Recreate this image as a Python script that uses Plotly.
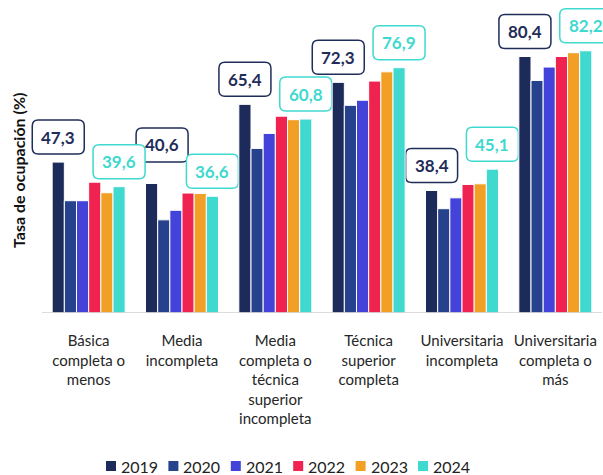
import plotly.graph_objects as go

categories = ["Básica<br>completa o<br>menos", "Media<br>incompleta",
              "Media<br>completa o<br>técnica<br>superior<br>incompleta",
              "Técnica<br>superior<br>completa", "Universitaria<br>incompleta",
              "Universitaria<br>completa o<br>más"]
years = ["2019", "2020", "2021", "2022", "2023", "2024"]
v2019 = [47.3, 40.6, 65.4, 72.3, 38.4, 80.4]
v2020 = [35.2, 29.2, 51.6, 65.1, 32.7, 72.9]
v2021 = [35.2, 32.2, 56.3, 66.7, 36.1, 77.1]
v2022 = [41.0, 37.6, 61.7, 72.7, 40.3, 80.4]
v2023 = [37.7, 37.5, 60.6, 75.6, 40.5, 81.6]
v2024 = [39.6, 36.6, 60.8, 76.9, 45.1, 82.2]
series = [v2019, v2020, v2021, v2022, v2023, v2024]
colors = ["#1c2b5a", "#27428c", "#4343d9", "#f0224f", "#f2a025", "#40d9d0"]
label_years = ["2019", "2024"]
label_colors = {"2019": "#1f2d5a", "2024": "#3fd9cf"}
# manual nudges (px) for labels that would collide: (category index, year) -> (dx, dy)
label_nudge = {(1, "2019"): (10.5, 13.5)}

W, H = 603, 475
ML, MR, MT, MB = 0, 0, 0, 162
BARGAP = 0.218
FONT = "Lato"
AX_L, AX_R = 42, 602  # pixel extent of the category axis line

fig = go.Figure()
for yr, vals, c in zip(years, series, colors):
    fig.add_trace(go.Bar(x=list(range(len(categories))), y=vals, name=yr,
                         marker=dict(color=c, line=dict(color="white", width=1)),
                         showlegend=False))

n = len(years)
slot = (1 - BARGAP) / n
px_per_cat = (AX_R - AX_L) / len(categories)
for yr in label_years:
    k = years.index(yr)
    col = label_colors[yr]
    for i, v in enumerate(series[k]):
        dx, dy = label_nudge.get((i, yr), (0, 0))
        xc = i + (k - (n - 1) / 2) * slot
        bw, bh, r, gap = 52, 34, 6, 8 + dy
        x0, x1 = dx - bw / 2, dx + bw / 2
        y0, y1 = gap, gap + bh
        path = (f"M {x0+r},{y0} L {x1-r},{y0} Q {x1},{y0} {x1},{y0+r} "
                f"L {x1},{y1-r} Q {x1},{y1} {x1-r},{y1} L {x0+r},{y1} "
                f"Q {x0},{y1} {x0},{y1-r} L {x0},{y0+r} Q {x0},{y0} {x0+r},{y0} Z")
        fig.add_shape(type="path", xref="x", yref="y", xsizemode="pixel",
                      ysizemode="pixel", xanchor=xc, yanchor=v, path=path,
                      line=dict(color=col, width=1.5), fillcolor="white", layer="below")
        fig.add_annotation(x=xc, y=v, xref="x", yref="y", yanchor="middle",
                           xshift=dx, yshift=gap + bh / 2, showarrow=False,
                           text=f"<b>{str(v).replace('.', ',')}</b>",
                           font=dict(family=FONT, size=17, color=col))

# axis baseline
fig.add_shape(type="line", xref="x", yref="y", x0=-0.5, x1=len(categories) - 0.5,
              y0=0, y1=0, line=dict(color="#d0d0d0", width=1.5), layer="above")

# custom legend
plot_h = H - MT - MB
def py2paper(py):
    return (H - MB - py) / plot_h

for k, (yr, c) in enumerate(zip(years, colors)):
    lx = 106 + 62.4 * k
    fig.add_shape(type="rect", xref="paper", yref="paper",
                  x0=lx / W, x1=(lx + 10) / W, y0=py2paper(471), y1=py2paper(461),
                  fillcolor=c, line=dict(width=0))
    fig.add_annotation(xref="paper", yref="paper", x=(lx + 13) / W, y=py2paper(466),
                       xanchor="left", yanchor="middle", showarrow=False, text=yr,
                       font=dict(family=FONT, size=16, color="#222222"))

# y axis title
fig.add_annotation(xref="paper", yref="paper", x=18 / W, y=py2paper(171),
                   xanchor="center", yanchor="middle", showarrow=False, textangle=-90,
                   text="<b>Tasa de ocupación (%)</b>",
                   font=dict(family=FONT, size=16, color="#111111"))

fig.update_layout(
    width=W, height=H, margin=dict(l=ML, r=MR, t=MT, b=MB),
    paper_bgcolor="white", plot_bgcolor="white",
    barmode="group", bargap=BARGAP, bargroupgap=0,
    xaxis=dict(tickmode="array", tickvals=list(range(len(categories))),
               ticktext=categories,
               range=[-0.5 - AX_L / px_per_cat, 5.5 + (W - AX_R) / px_per_cat],
               showgrid=False, zeroline=False, showline=False,
               ticks="outside", ticklen=14, tickcolor="rgba(0,0,0,0)",
               tickfont=dict(family=FONT, size=15, color="#262626")),
    yaxis=dict(range=[0, 313 / 3.19], showgrid=False, zeroline=False,
               showticklabels=False, showline=False),
)
fig.write_html("out.html", config={"displayModeBar": False},
               post_script="document.body.style.margin='0';")
